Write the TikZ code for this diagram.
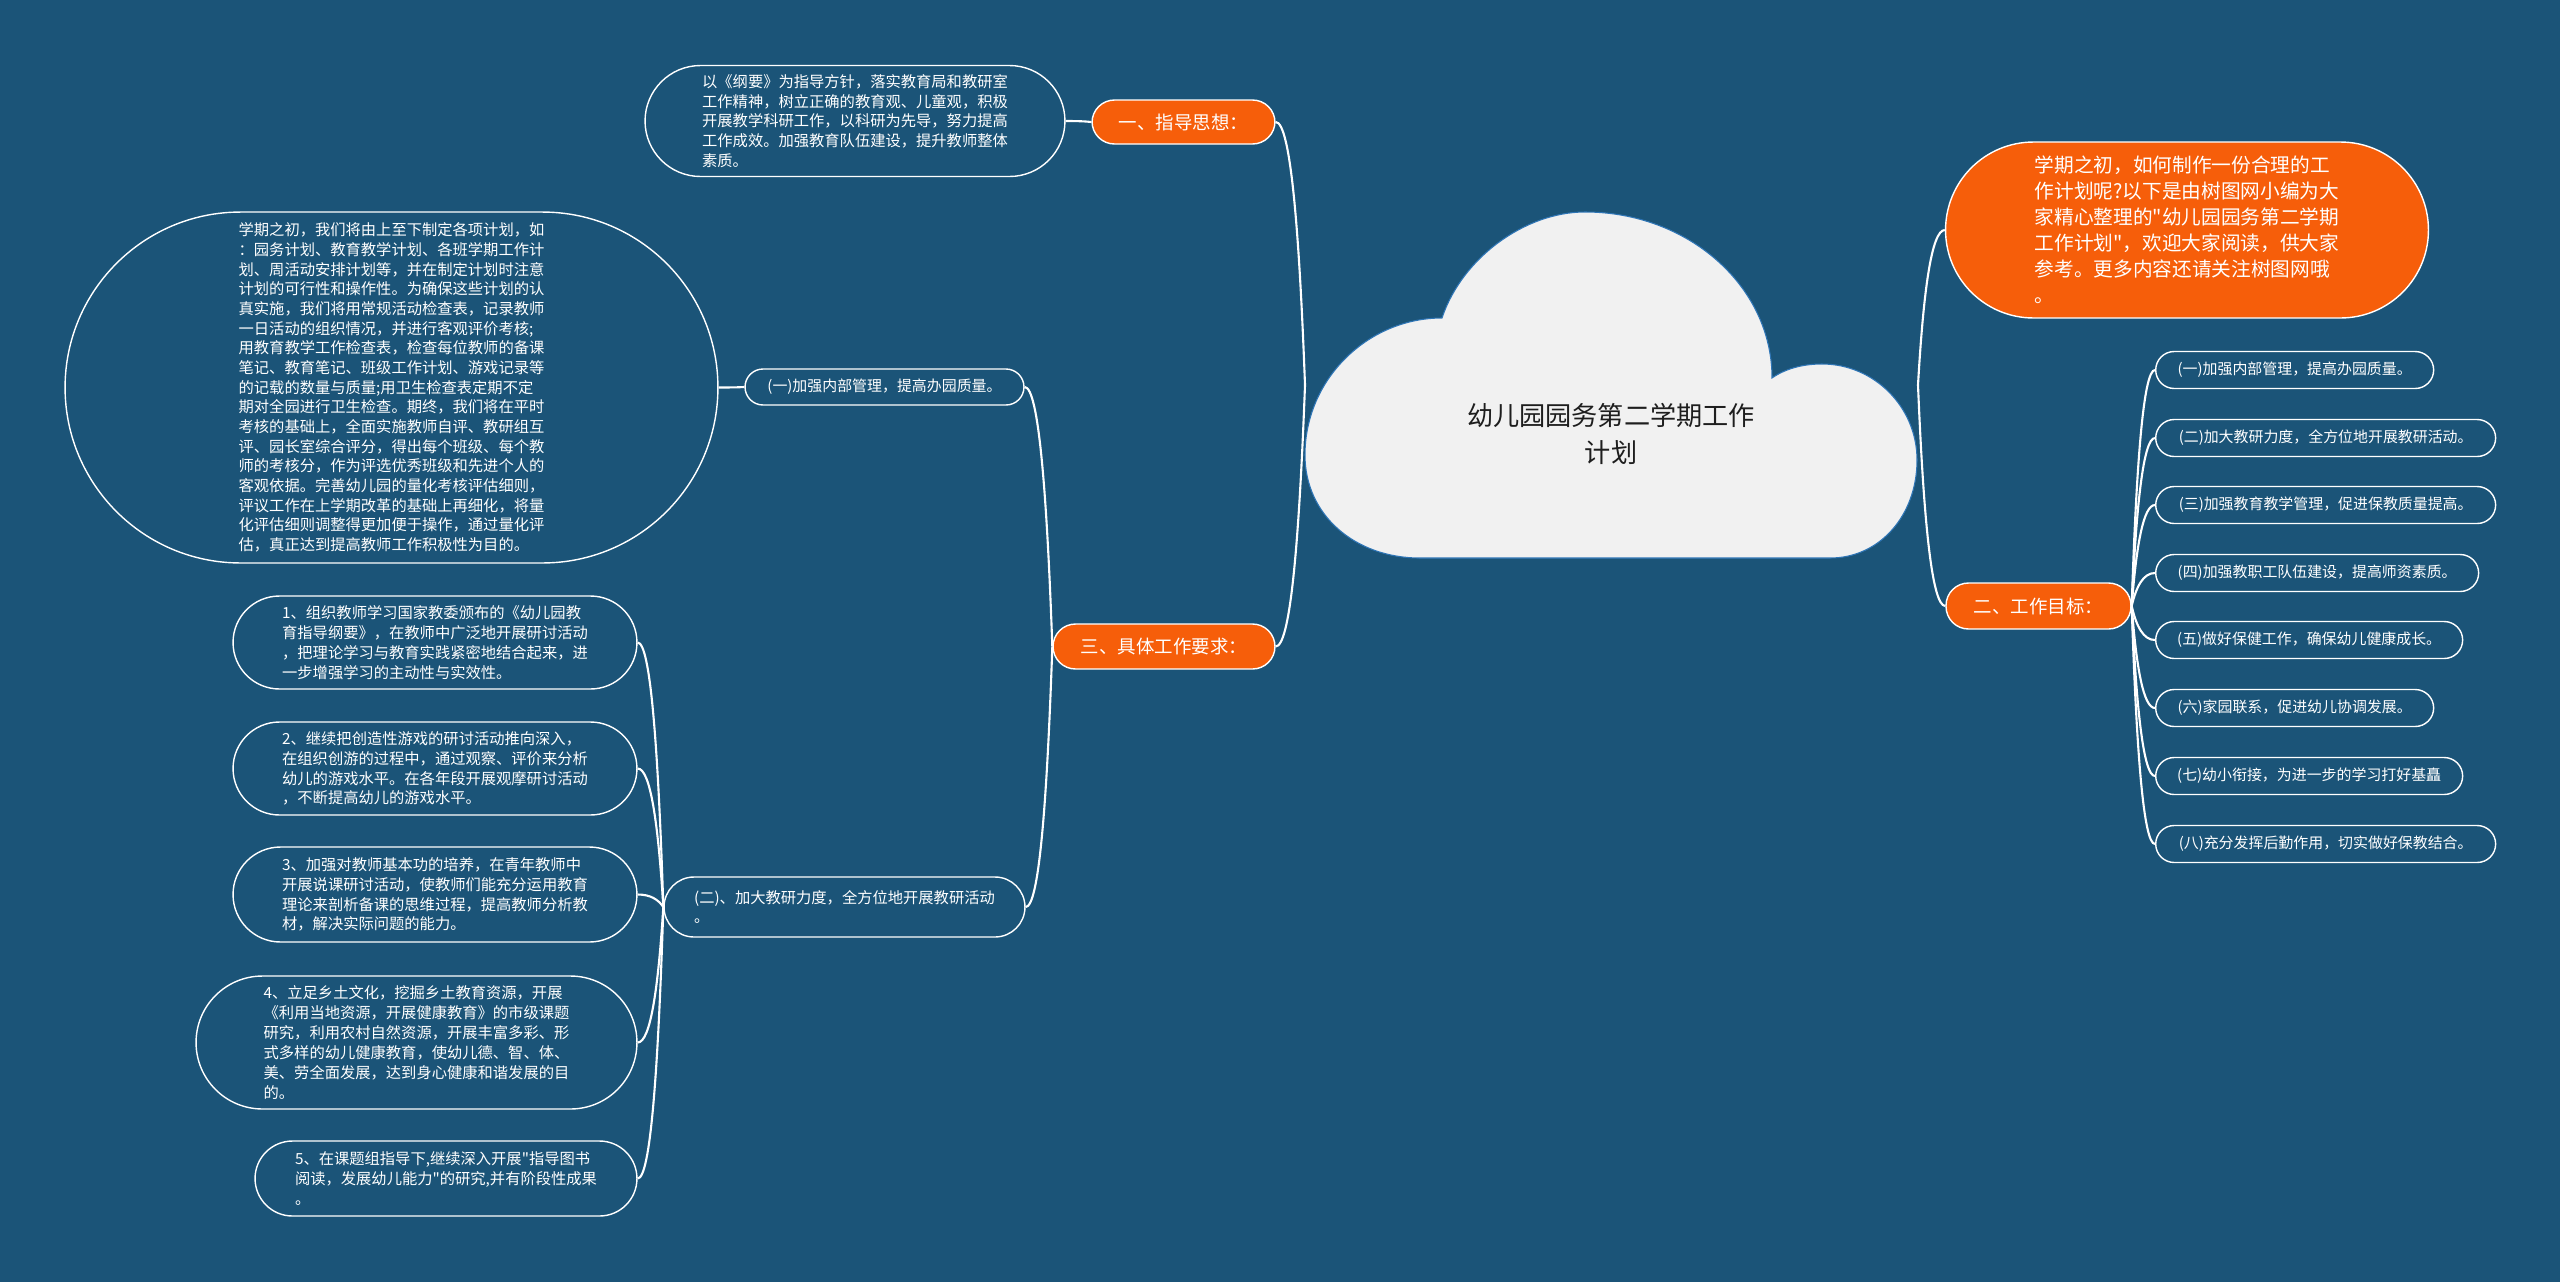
\documentclass[tikz,border=0pt]{standalone}
\usepackage{fontspec}
\setmainfont{Noto Sans CJK SC}[Ligatures=TeXOff]
\usetikzlibrary{calc}

\definecolor{bgblue}{RGB}{27,84,120}
\definecolor{topicorange}{RGB}{246,94,10}
\definecolor{cloudgray}{RGB}{241,241,241}
\definecolor{cloudrim}{RGB}{46,117,182}
\definecolor{titleink}{RGB}{30,30,30}

\tikzset{
  topic/.style={draw=white, line width=0.8pt, fill=topicorange, text=white, rounded corners=0.45cm,
    minimum height=0.9cm, inner sep=0pt, font=\fontsize{10.5pt}{12pt}\selectfont},
  note/.style={draw=white, line width=0.8pt, text=white, align=left, inner sep=0pt,
    font=\fontsize{8.7pt}{11.3pt}\selectfont},
  leaf/.style={note, minimum height=0.74cm, rounded corners=0.37cm, font=\fontsize{8.5pt}{10pt}\selectfont},
  link/.style={white, line width=1.2pt},
}
\newcommand{\conn}[2]{\draw[link] let \p1=(#1), \p2=(#2) in (\p1) .. controls ({\x1+0.2*(\x2-\x1)},{\y1+0.6*(\y2-\y1)}) and ({\x1+0.5*(\x2-\x1)},\y2) .. (\p2);}

\begin{document}
\begin{tikzpicture}[x=0.02cm, y=-0.02cm]
\fill[bgblue] (0,0) rectangle (2560,1282);
\useasboundingbox (0,0) rectangle (2560,1282);

% cloud in the middle
\filldraw[fill=cloudgray, draw=cloudrim, line width=0.6pt] (1420,558)
  .. controls (1355,558) and (1305,515) .. (1305,455)
  .. controls (1305,379) and (1368,318) .. (1442,318)
  .. controls (1462,258) and (1525,212) .. (1585,212)
  .. controls (1688,212) and (1772,286) .. (1772,378)
  .. controls (1785,369) and (1802,364) .. (1822,364)
  .. controls (1874,364) and (1917,407) .. (1917,460)
  .. controls (1917,515) and (1880,558) .. (1830,558) -- cycle;
\node[align=center, text=titleink, font=\fontsize{14.9pt}{21.5pt}\selectfont] (root) at (1611,434) {幼儿园园务第二学期工作\\计划};
\coordinate (rootL) at (1305,385);
\coordinate (rootR) at (1918,385);

% right side
\node[topic, minimum width=9.66cm, minimum height=3.52cm, rounded corners=1.76cm, align=left,
  font=\fontsize{11.2pt}{14.8pt}\selectfont] (intro) at (2187,230)
  {学期之初，如何制作一份合理的工\\作计划呢?以下是由树图网小编为大\\家精心整理的"幼儿园园务第二学期\\工作计划"，欢迎大家阅读，供大家\\参考。更多内容还请关注树图网哦\\。};
\node[topic, minimum width=3.7cm, minimum height=0.92cm] (goal) at (2038.5,606) {二、工作目标：};
\conn{rootR}{intro.west}
\conn{rootR}{goal.west}

\foreach \i/\y/\w/\t in {
  1/370/5.56/{(一)加强内部管理，提高办园质量。},
  2/438/6.8/{(二)加大教研力度，全方位地开展教研活动。},
  3/505/6.8/{(三)加强教育教学管理，促进保教质量提高。},
  4/573/6.46/{(四)加强教职工队伍建设，提高师资素质。},
  5/640/6.14/{(五)做好保健工作，确保幼儿健康成长。},
  6/708/5.56/{(六)家园联系，促进幼儿协调发展。},
  7/776/6.14/{(七)幼小衔接，为进一步的学习打好基矗},
  8/844/6.8/{(八)充分发挥后勤作用，切实做好保教结合。}} {
  \node[leaf, minimum width=\w cm, anchor=west] (g\i) at (2155,\y) {\t};
  \conn{goal.east}{g\i.west}
}

% left side
\node[topic, minimum width=3.66cm, minimum height=0.88cm] (guide) at (1183.5,122) {一、指导思想：};
\node[note, minimum width=8.4cm, minimum height=2.22cm, rounded corners=1.11cm] (guidetxt) at (855,121)
  {以《纲要》为指导方针，落实教育局和教研室\\工作精神，树立正确的教育观、儿童观，积极\\开展教学科研工作，以科研为先导，努力提高\\工作成效。加强教育队伍建设，提升教师整体\\素质。};
\node[topic, minimum width=4.44cm, minimum height=0.9cm] (req) at (1164,646.5) {三、具体工作要求：};
\conn{rootL}{guide.east}
\conn{rootL}{req.east}
\conn{guide.west}{guidetxt.east}

\node[leaf, minimum width=5.58cm, minimum height=0.72cm, rounded corners=0.36cm] (req1) at (884.5,387) {(一)加强内部管理，提高办园质量。};
\node[note, minimum width=13.06cm, minimum height=7.02cm, rounded corners=3.51cm,
  font=\fontsize{8.7pt}{11.2pt}\selectfont] (plan) at (391.5,387.5)
  {学期之初，我们将由上至下制定各项计划，如\\：园务计划、教育教学计划、各班学期工作计\\划、周活动安排计划等，并在制定计划时注意\\计划的可行性和操作性。为确保这些计划的认\\真实施，我们将用常规活动检查表，记录教师\\一日活动的组织情况，并进行客观评价考核;\\用教育教学工作检查表，检查每位教师的备课\\笔记、教育笔记、班级工作计划、游戏记录等\\的记载的数量与质量;用卫生检查表定期不定\\期对全园进行卫生检查。期终，我们将在平时\\考核的基础上，全面实施教师自评、教研组互\\评、园长室综合评分，得出每个班级、每个教\\师的考核分，作为评选优秀班级和先进个人的\\客观依据。完善幼儿园的量化考核评估细则，\\评议工作在上学期改革的基础上再细化，将量\\化评估细则调整得更加便于操作，通过量化评\\估，真正达到提高教师工作积极性为目的。};
\node[note, minimum width=7.22cm, minimum height=1.2cm, rounded corners=0.6cm] (req2) at (844.5,907)
  {(二)、加大教研力度，全方位地开展教研活动\\。};
\conn{req.west}{req1.east}
\conn{req.west}{req2.east}
\conn{req1.west}{plan.east}

\node[note, minimum width=8.08cm, minimum height=1.86cm, rounded corners=0.93cm] (item1) at (435,642.5)
  {1、组织教师学习国家教委颁布的《幼儿园教\\育指导纲要》，在教师中广泛地开展研讨活动\\，把理论学习与教育实践紧密地结合起来，进\\一步增强学习的主动性与实效性。};
\node[note, minimum width=8.08cm, minimum height=1.86cm, rounded corners=0.93cm] (item2) at (435,768.5)
  {2、继续把创造性游戏的研讨活动推向深入，\\在组织创游的过程中，通过观察、评价来分析\\幼儿的游戏水平。在各年段开展观摩研讨活动\\，不断提高幼儿的游戏水平。};
\node[note, minimum width=8.08cm, minimum height=1.9cm, rounded corners=0.95cm] (item3) at (435,894.5)
  {3、加强对教师基本功的培养，在青年教师中\\开展说课研讨活动，使教师们能充分运用教育\\理论来剖析备课的思维过程，提高教师分析教\\材，解决实际问题的能力。};
\node[note, minimum width=8.82cm, minimum height=2.66cm, rounded corners=1.33cm] (item4) at (416.5,1042.5)
  {4、立足乡土文化，挖掘乡土教育资源，开展\\《利用当地资源，开展健康教育》的市级课题\\研究，利用农村自然资源，开展丰富多彩、形\\式多样的幼儿健康教育，使幼儿德、智、体、\\美、劳全面发展，达到身心健康和谐发展的目\\的。};
\node[note, minimum width=7.64cm, minimum height=1.5cm, rounded corners=0.75cm] (item5) at (446,1178.5)
  {5、在课题组指导下,继续深入开展"指导图书\\阅读，发展幼儿能力"的研究,并有阶段性成果\\。};
\conn{req2.west}{item1.east}
\conn{req2.west}{item2.east}
\conn{req2.west}{item3.east}
\conn{req2.west}{item4.east}
\conn{req2.west}{item5.east}
\end{tikzpicture}
\end{document}
